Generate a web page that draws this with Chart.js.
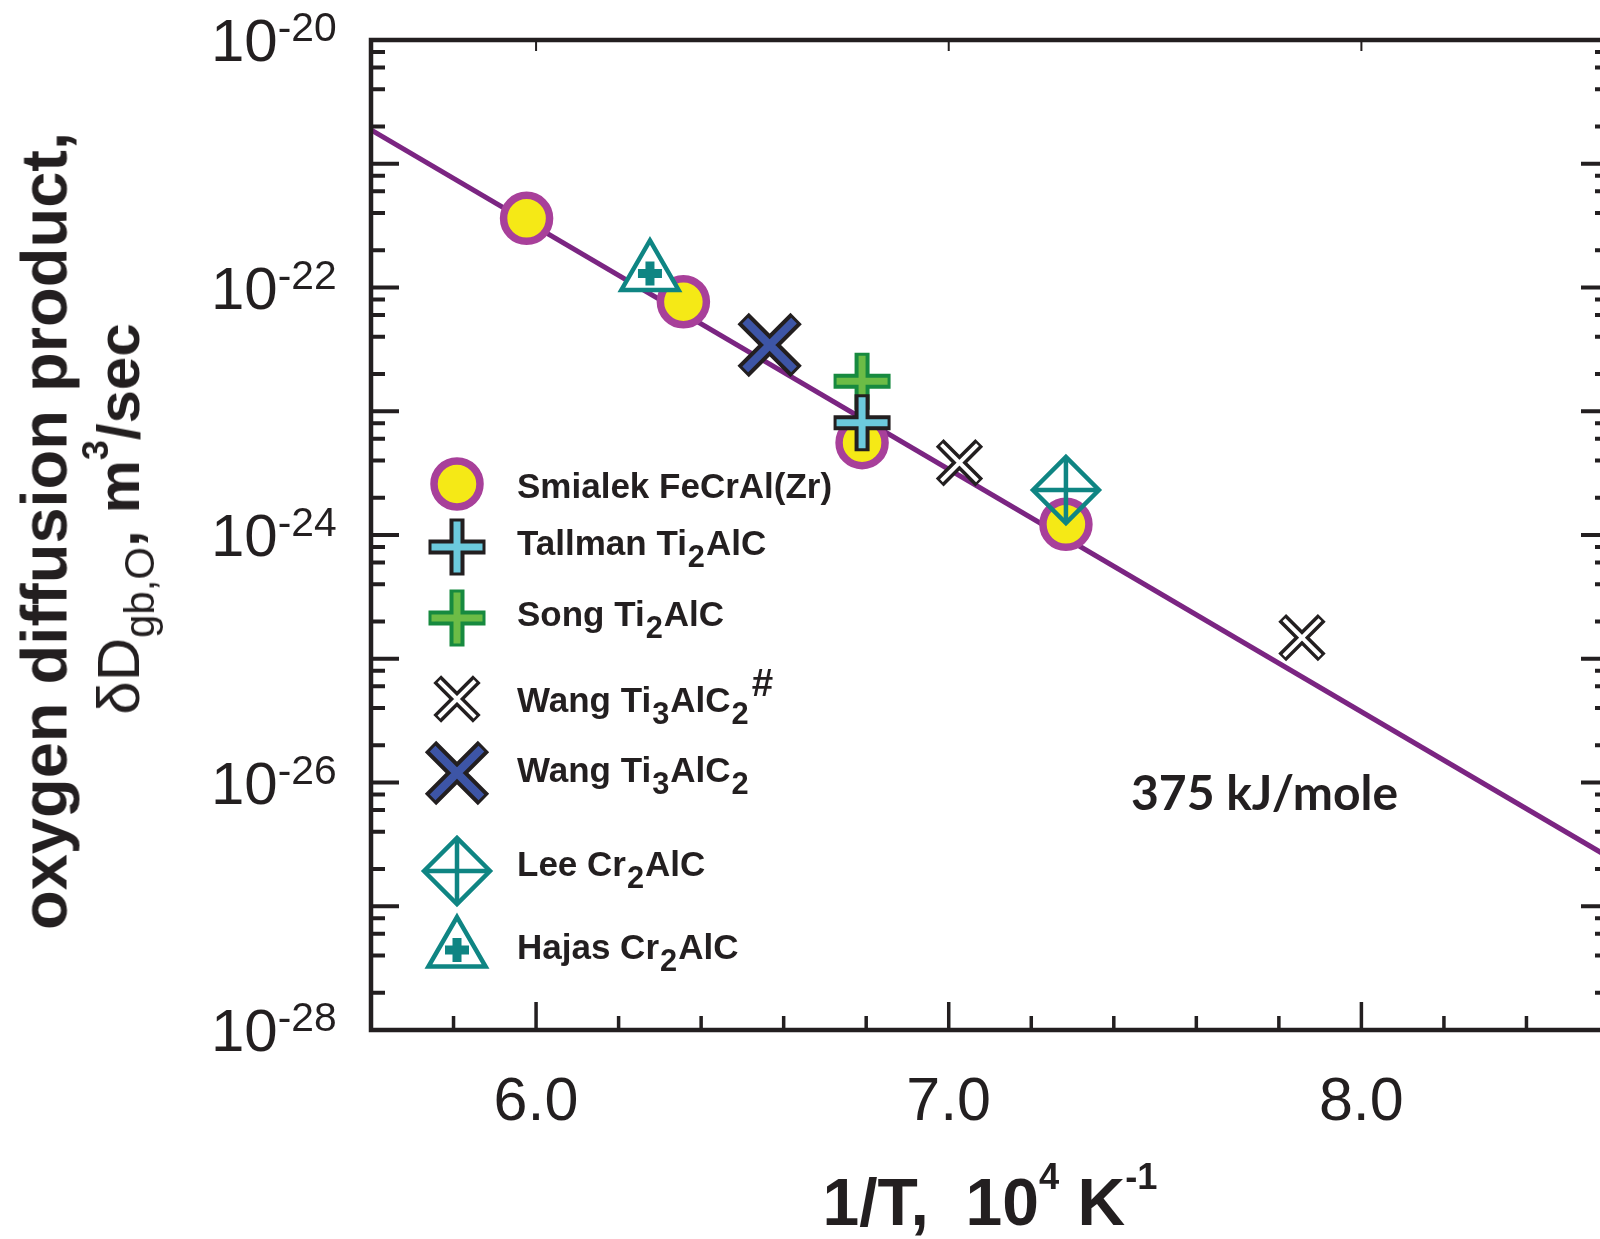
<!DOCTYPE html>
<html lang="en">
<head>
  <meta charset="UTF-8">
  <title>Oxygen grain boundary diffusion product</title>
  <script src="https://cdn.jsdelivr.net/npm/chart.js"></script>
  <style>
    html, body { margin: 0; padding: 0; background: #fff; overflow: hidden; }
    #wrap {
      position: relative; width: 1600px; height: 1239px; overflow: hidden;
      font-family: "Liberation Sans", Arial, sans-serif; color: #231f20;
    }
    #box { position: absolute; left: 0; top: 0; width: 1640px; height: 1239px; }
    .lbl { position: absolute; white-space: nowrap; line-height: 1; }
    sub, sup { line-height: 0; position: relative; vertical-align: baseline; }
    .ytick { font-size: 60px; }
    .ytick sup { font-size: 0.68em; top: -0.49em; }
    .xtick { font-size: 61px; }
    .leg { font-size: 35px; font-weight: bold; }
    .leg sub { font-size: 0.88em; top: 0.4em; margin: 0 1px; }
    .leg sup { font-size: 1.1em; top: -0.42em; margin-left: 2px; }
    .ytitle { font-weight: bold; transform: translate(-50%, -50%) rotate(-90deg); }
    #ytitle1 { font-size: 65px; }
    #ytitle2 { font-size: 60px; }
    .ytitle .reg { font-weight: normal; }
    .ytitle sub { font-size: 0.7em; top: 0.35em; }
    .ytitle sup { font-size: 0.6em; top: -0.85em; }
    #xtitle { font-size: 66px; font-weight: bold; transform: translate(-50%, -50%); }
    #xtitle sup { font-size: 0.55em; top: -1.0em; }
    #energy { font-family: Lato, "Open Sans", sans-serif; font-weight: bold; font-size: 48px; }
    .mk { position: absolute; }
  </style>
</head>
<body>
<div id="wrap">
  <div id="box"><canvas id="oxChart" width="1640" height="1239"></canvas></div>
  <div class="lbl ytitle" id="ytitle1">oxygen diffusion product,</div>
  <div class="lbl ytitle" id="ytitle2"><span class="reg">&delta;D<sub>gb,O</sub></span>, m<sup>3</sup>/sec</div>
  <div class="lbl" id="xtitle">1/T,&nbsp; 10<sup>4</sup> K<sup>-1</sup></div>
  <div class="lbl" id="energy">375 kJ/mole</div>
</div>

<script>
  // 1/T in 10^4 K^-1, product in m^3/sec
  const smialekX = [5.977, 6.357, 6.790, 7.284];
  const smialekY = [3.62e-22, 7.67e-23, 5.57e-24, 1.22e-24];
  const tallmanX = [6.790];
  const tallmanY = [8.07e-24];
  const songX = [6.790];
  const songY = [1.75e-23];
  const wangHashX = [7.026, 7.856];
  const wangHashY = [3.84e-24, 1.48e-25];
  const wangX = [6.566];
  const wangY = [3.43e-23];
  const leeX = [7.284];
  const leeY = [2.31e-24];
  const hajasX = [6.276];
  const hajasY = [1.30e-22];
  // 375 kJ/mole fit line
  const fitX = [5.6, 8.6];
  const fitY = [1.88e-21, 2.49e-27];

  // axis ticks
  const xMajorTicks = [6.0, 7.0, 8.0];
  const xMinorTicks = [5.8, 6.2, 6.4, 6.6, 6.8, 7.2, 7.4, 7.6, 7.8, 8.2, 8.4];
  const xTickLabels = ['6.0', '7.0', '8.0'];
  const yMajorTicks = [1e-20, 1e-21, 1e-22, 1e-23, 1e-24, 1e-25, 1e-26, 1e-27, 1e-28];
  const yMinorMantissas = [2, 4, 6, 8];
  const yLabelValues = [1e-20, 1e-22, 1e-24, 1e-26, 1e-28];
  const yLabelExps = ['-20', '-22', '-24', '-26', '-28'];

  const INK = '#231f20';
  const TEAL = '#0f8583';

  // marker layers, drawn bottom to top
  const markers = {
    smialek: [{ style: 'circle', radius: 23, width: 7.5, stroke: '#a8409a', fill: '#f5e916' }],
    tallman: [{ style: 'cross', radius: 28.5, width: 15, stroke: INK },
              { style: 'cross', radius: 25.5, width: 7, stroke: '#6ccadd' }],
    song: [{ style: 'cross', radius: 28.5, width: 15, stroke: '#178a3f' },
           { style: 'cross', radius: 25.5, width: 7, stroke: '#6cbc46' }],
    wangHash: [{ style: 'crossRot', radius: 28, width: 11, stroke: INK },
               { style: 'crossRot', radius: 25.5, width: 4, stroke: '#ffffff' }],
    wang: [{ style: 'crossRot', radius: 37.5, width: 16, stroke: INK },
           { style: 'crossRot', radius: 34.5, width: 8, stroke: '#3d55a6' }],
    lee: [{ style: 'rectRot', radius: 33, width: 4.5, stroke: TEAL },
          { style: 'cross', radius: 33, width: 4.5, stroke: TEAL }],
    hajas: [{ style: 'triangle', radius: 33, width: 4.5, stroke: TEAL, fill: '#ffffff' },
            { style: 'cross', radius: 12, width: 9, stroke: TEAL }]
  };

  const legendRows = [
    { key: 'smialek', html: 'Smialek FeCrAl(Zr)', my: 484, ty: 485 },
    { key: 'tallman', html: 'Tallman Ti<sub>2</sub>AlC', my: 547, ty: 542 },
    { key: 'song', html: 'Song Ti<sub>2</sub>AlC', my: 618, ty: 613 },
    { key: 'wangHash', html: 'Wang Ti<sub>3</sub>AlC<sub>2</sub><sup>#</sup>', my: 699, ty: 699 },
    { key: 'wang', html: 'Wang Ti<sub>3</sub>AlC<sub>2</sub>', my: 773, ty: 769 },
    { key: 'lee', html: 'Lee Cr<sub>2</sub>AlC', my: 871, ty: 863 },
    { key: 'hajas', html: 'Hajas Cr<sub>2</sub>AlC', my: 950, ty: 946 }
  ];

  const toPts = (xs, ys) => xs.map((x, i) => ({ x: x, y: ys[i] }));

  function layerSets(label, xs, ys, layers, order) {
    return layers.map((l, i) => ({
      label: label,
      data: toPts(xs, ys),
      showLine: false,
      pointStyle: l.style,
      pointRadius: l.radius,
      pointBorderWidth: l.width,
      pointBorderColor: l.stroke,
      pointBackgroundColor: l.fill || 'rgba(0,0,0,0)',
      order: order - i
    }));
  }

  const framePlugin = {
    id: 'frame',
    afterDraw(chart) {
      const { ctx, chartArea: a, scales: { x, y } } = chart;
      ctx.save();
      ctx.strokeStyle = INK;
      ctx.lineCap = 'butt';

      ctx.lineWidth = 3.5;
      ctx.beginPath();
      xMajorTicks.forEach(v => {
        const px = x.getPixelForValue(v);
        ctx.moveTo(px, a.bottom); ctx.lineTo(px, a.bottom - 28);
      });
      xMinorTicks.forEach(v => {
        const px = x.getPixelForValue(v);
        ctx.moveTo(px, a.bottom); ctx.lineTo(px, a.bottom - 14);
      });
      ctx.stroke();

      ctx.lineWidth = 2;
      ctx.beginPath();
      xMajorTicks.forEach(v => {
        const px = x.getPixelForValue(v);
        ctx.moveTo(px, a.top); ctx.lineTo(px, a.top + 11);
      });
      ctx.stroke();

      ctx.lineWidth = 4;
      ctx.beginPath();
      yMajorTicks.forEach(v => {
        const py = y.getPixelForValue(v);
        ctx.moveTo(a.left, py); ctx.lineTo(a.left + 28, py);
        ctx.moveTo(a.right, py); ctx.lineTo(a.right - 28, py);
      });
      yMajorTicks.slice(1).forEach(d => {
        yMinorMantissas.forEach(m => {
          const py = y.getPixelForValue(m * d);
          ctx.moveTo(a.left, py); ctx.lineTo(a.left + 14, py);
          ctx.moveTo(a.right, py); ctx.lineTo(a.right - 14, py);
        });
      });
      ctx.stroke();

      ctx.lineWidth = 4.5;
      ctx.strokeRect(a.left, a.top, a.right - a.left, a.bottom - a.top);
      ctx.restore();
    }
  };

  const datasets = [
    {
      label: '375 kJ/mole',
      data: toPts(fitX, fitY),
      showLine: true,
      borderColor: '#7b2582',
      borderWidth: 5,
      pointRadius: 0,
      order: 100
    },
    ...layerSets('Smialek FeCrAl(Zr)', smialekX, smialekY, markers.smialek, 80),
    ...layerSets('Hajas Cr2AlC', hajasX, hajasY, markers.hajas, 70),
    ...layerSets('Wang Ti3AlC2', wangX, wangY, markers.wang, 60),
    ...layerSets('Song Ti2AlC', songX, songY, markers.song, 50),
    ...layerSets('Tallman Ti2AlC', tallmanX, tallmanY, markers.tallman, 40),
    ...layerSets('Wang Ti3AlC2#', wangHashX, wangHashY, markers.wangHash, 30),
    ...layerSets('Lee Cr2AlC', leeX, leeY, markers.lee, 20)
  ];

  const chart = new Chart(document.getElementById('oxChart'), {
    type: 'scatter',
    data: { datasets: datasets },
    options: {
      responsive: false,
      animation: false,
      events: [],
      layout: { autoPadding: false, padding: { left: 371, top: 40, right: 31, bottom: 209 } },
      plugins: { legend: { display: false }, tooltip: { enabled: false } },
      scales: {
        x: { type: 'linear', display: false, min: 5.6, max: 8.6 },
        y: { type: 'logarithmic', display: false, min: 1e-28, max: 1e-20 }
      }
    },
    plugins: [framePlugin]
  });

  // tick labels, placed from the chart's scales
  const wrap = document.getElementById('wrap');
  function addLabel(cls, html) {
    const el = document.createElement('div');
    el.className = 'lbl ' + cls;
    el.innerHTML = html;
    wrap.appendChild(el);
    return el;
  }

  const area = chart.chartArea;
  yLabelValues.forEach((v, i) => {
    const el = addLabel('ytick', '10<sup>' + yLabelExps[i] + '</sup>');
    el.style.left = (area.left - 34 - el.offsetWidth) + 'px';
    el.style.top = (chart.scales.y.getPixelForValue(v) - 29) + 'px';
  });
  xMajorTicks.forEach((v, i) => {
    const el = addLabel('xtick', xTickLabels[i]);
    el.style.left = (chart.scales.x.getPixelForValue(v) - el.offsetWidth / 2) + 'px';
    el.style.top = (area.bottom + 39) + 'px';
  });

  // legend: markers painted with Chart.js' own point renderer
  function paintMarker(ctx, layers, cx, cy) {
    layers.forEach(l => {
      ctx.save();
      ctx.lineWidth = l.width;
      ctx.strokeStyle = l.stroke;
      ctx.fillStyle = l.fill || 'rgba(0,0,0,0)';
      Chart.helpers.drawPoint(ctx, { pointStyle: l.style, radius: l.radius, borderWidth: l.width, rotation: 0 }, cx, cy);
      ctx.restore();
    });
  }
  legendRows.forEach(r => {
    const c = document.createElement('canvas');
    c.width = 90; c.height = 90;
    c.className = 'mk';
    c.style.left = (457 - 45) + 'px';
    c.style.top = (r.my - 45) + 'px';
    wrap.appendChild(c);
    paintMarker(c.getContext('2d'), markers[r.key], 45, 45);
    const t = addLabel('leg', r.html);
    t.style.left = '517px';
    t.style.top = (r.ty - 17) + 'px';
  });

  // axis titles and annotation
  const yt1 = document.getElementById('ytitle1');
  yt1.style.left = '44px'; yt1.style.top = '531px';
  const yt2 = document.getElementById('ytitle2');
  yt2.style.left = '119px'; yt2.style.top = '519px';
  const xt = document.getElementById('xtitle');
  xt.style.left = '990px'; xt.style.top = '1202px';
  const en = document.getElementById('energy');
  en.style.left = '1131px'; en.style.top = '768px';
</script>
</body>
</html>
